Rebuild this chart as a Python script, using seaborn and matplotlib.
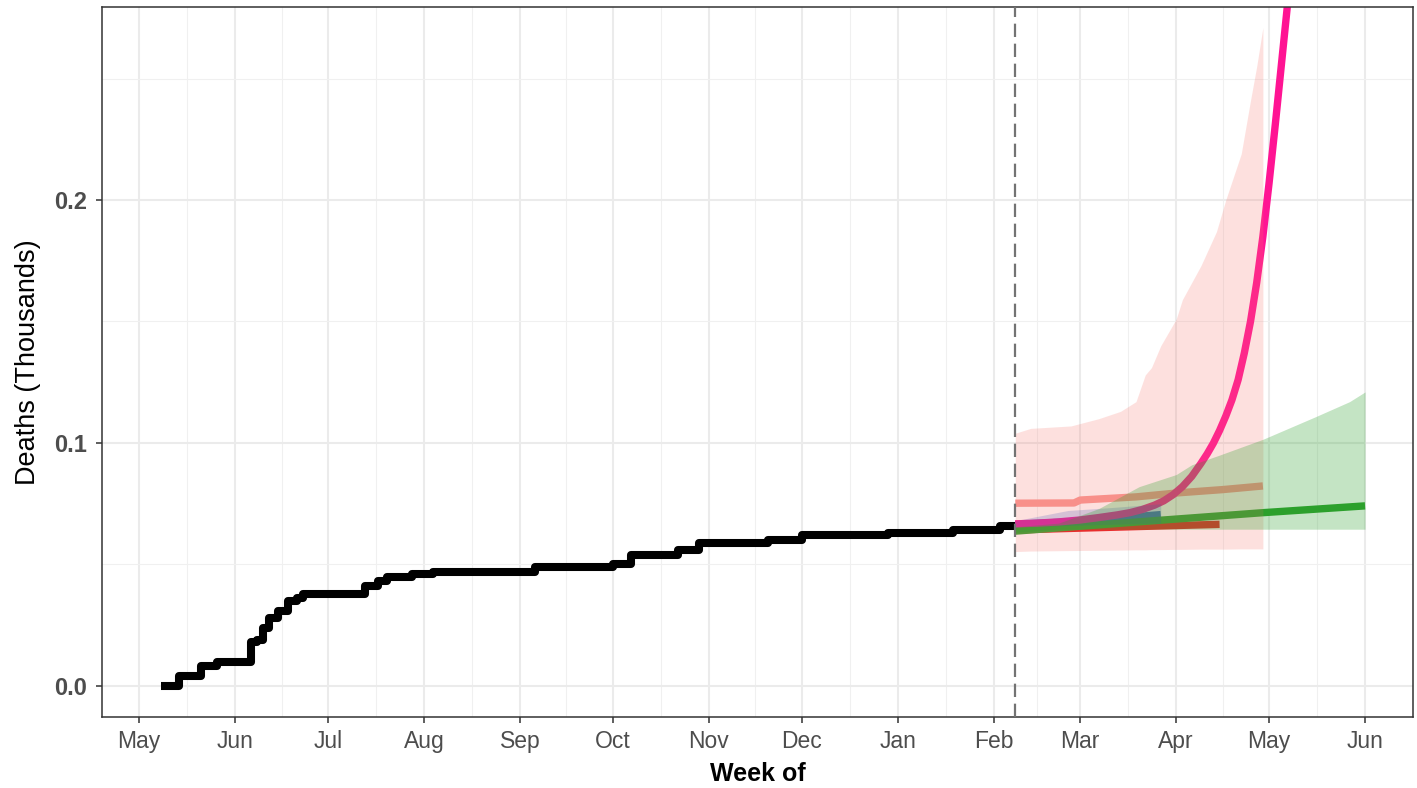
import pandas as pd
import matplotlib
matplotlib.use("Agg")
import matplotlib.pyplot as plt
import matplotlib.dates as mdates
import matplotlib.ticker as mticker
import seaborn as sns

# observed cumulative deaths (dates where the count changes), in deaths
obs_dates = ["2020-05-08", "2020-05-14", "2020-05-21", "2020-05-26", "2020-06-06",
             "2020-06-08", "2020-06-10", "2020-06-12", "2020-06-15", "2020-06-18",
             "2020-06-21", "2020-06-23", "2020-07-13", "2020-07-17", "2020-07-20",
             "2020-07-28", "2020-08-04", "2020-09-06", "2020-10-01", "2020-10-07",
             "2020-10-22", "2020-10-29", "2020-11-20", "2020-12-01", "2020-12-29",
             "2021-01-19", "2021-02-03", "2021-02-08"]
obs_deaths = [0, 4, 8, 10, 18, 19, 24, 28, 31, 35, 36, 38, 41, 43, 45, 46, 47, 49,
              50, 54, 56, 59, 60, 62, 63, 64, 66, 66]

forecast_start = "2021-02-08"

# forecast lines (thousands)
salmon_dates = ["2021-02-08", "2021-02-27", "2021-03-01", "2021-03-19", "2021-04-02",
                "2021-04-16", "2021-04-29"]
salmon_vals = [0.0752, 0.0753, 0.0765, 0.0778, 0.0795, 0.0808, 0.0823]

green_dates = ["2021-02-08", "2021-03-27", "2021-04-29", "2021-06-01"]
green_vals = [0.0637, 0.0682, 0.0713, 0.0741]

blue_dates = ["2021-02-08", "2021-02-25", "2021-03-12", "2021-03-27"]
blue_vals = [0.0665, 0.0675, 0.0690, 0.0705]
blue_lo = [0.0655, 0.0660, 0.0665, 0.0670]
blue_hi = [0.0680, 0.0722, 0.0735, 0.0750]

red_dates = ["2021-02-08", "2021-04-15"]
red_vals = [0.0642, 0.0665]

pink_dates = ["2021-02-08", "2021-02-15", "2021-02-22", "2021-03-01", "2021-03-07",
              "2021-03-13", "2021-03-17", "2021-03-21", "2021-03-25", "2021-03-28",
              "2021-03-31", "2021-04-03", "2021-04-06", "2021-04-09", "2021-04-11",
              "2021-04-13", "2021-04-15", "2021-04-17", "2021-04-19", "2021-04-21",
              "2021-04-23", "2021-04-25", "2021-04-27", "2021-04-29", "2021-05-01",
              "2021-05-03", "2021-05-05", "2021-05-07", "2021-05-09"]
pink_vals = [0.0667, 0.0670, 0.0675, 0.0683, 0.0693, 0.0704, 0.0713, 0.0726, 0.0744,
             0.0762, 0.0787, 0.0820, 0.0862, 0.0916, 0.0955, 0.0999, 0.1051, 0.1110,
             0.1177, 0.1260, 0.1370, 0.1500, 0.1660, 0.1850, 0.2070, 0.2310, 0.2560,
             0.2810, 0.3080]

# forecast intervals (thousands)
pink_band_dates = ["2021-02-08", "2021-02-13", "2021-02-26", "2021-03-07", "2021-03-14",
                   "2021-03-19", "2021-03-22", "2021-03-24", "2021-03-27", "2021-04-01",
                   "2021-04-03", "2021-04-09", "2021-04-14", "2021-04-17", "2021-04-22",
                   "2021-04-25", "2021-04-27", "2021-04-29"]
pink_band_lo = [0.0553, 0.0555, 0.0557, 0.0558, 0.0559, 0.0560, 0.0560, 0.0561, 0.0561,
                0.0562, 0.0562, 0.0563, 0.0563, 0.0563, 0.0564, 0.0564, 0.0564, 0.0564]
pink_band_hi = [0.104, 0.106, 0.107, 0.110, 0.113, 0.117, 0.128, 0.131, 0.140, 0.151,
                0.159, 0.173, 0.187, 0.200, 0.219, 0.241, 0.255, 0.271]

green_band_dates = ["2021-02-08", "2021-02-22", "2021-03-07", "2021-03-20", "2021-04-01",
                    "2021-04-06", "2021-04-15", "2021-04-29", "2021-05-16", "2021-05-27",
                    "2021-06-01"]
green_band_lo = [0.0632, 0.0645, 0.0645, 0.0645, 0.0645, 0.0645, 0.0645, 0.0645, 0.0645,
                 0.0645, 0.0645]
green_band_hi = [0.0655, 0.0670, 0.0730, 0.0820, 0.0870, 0.0910, 0.0950, 0.1015, 0.1108,
                 0.1170, 0.1210]

month_ticks = pd.date_range("2020-05-01", "2021-06-01", freq="MS")

sns.set_theme(style="whitegrid", rc={
    "axes.edgecolor": "#333333",
    "axes.linewidth": 1.1,
    "grid.color": "#ebebeb",
})
plt.rcParams["font.family"] = ["Liberation Sans", "DejaVu Sans"]

fig, ax = plt.subplots(figsize=(14.17, 7.88), dpi=100)
fig.subplots_adjust(left=0.072, right=0.9972, top=0.991, bottom=0.0901)

obs = pd.DataFrame({"date": pd.to_datetime(obs_dates), "deaths": [d / 1000 for d in obs_deaths]})
sns.lineplot(data=obs, x="date", y="deaths", ax=ax, color="black", linewidth=5.8,
             drawstyle="steps-post", solid_capstyle="butt")

lines = [
    (salmon_dates, salmon_vals, "#f99893"),
    (red_dates, red_vals, "#e41a1c"),
    (blue_dates, blue_vals, "#2f6fae"),
    (green_dates, green_vals, "#2ca02c"),
    (pink_dates, pink_vals, "#ff1493"),
]
for d, v, c in lines:
    df = pd.DataFrame({"date": pd.to_datetime(d), "value": v})
    sns.lineplot(data=df, x="date", y="value", ax=ax, color=c, linewidth=5.3,
                 solid_capstyle="butt")

ax.fill_between(pd.to_datetime(pink_band_dates), pink_band_lo, pink_band_hi,
                color="#f8766d", alpha=0.22, linewidth=0, zorder=3)
ax.fill_between(pd.to_datetime(blue_dates), blue_lo, blue_hi,
                color="#4a55b8", alpha=0.22, linewidth=0, zorder=3)
ax.fill_between(pd.to_datetime(green_band_dates), green_band_lo, green_band_hi,
                color="#2ca02c", alpha=0.28, linewidth=0, zorder=3)

ax.axvline(pd.Timestamp(forecast_start), color="#737373", linewidth=1.6,
           linestyle=(0, (6, 3)), zorder=4)

ax.set_xlim(pd.Timestamp("2020-04-19"), pd.Timestamp("2021-06-16 12:00"))
ax.set_ylim(-0.0128, 0.2794)

ax.set_xticks(month_ticks)
ax.xaxis.set_major_formatter(mdates.DateFormatter("%b"))
nums = mdates.date2num(month_ticks)
ax.set_xticks([(a + b) / 2 for a, b in zip(nums[:-1], nums[1:])], minor=True)
ax.set_yticks([0.0, 0.1, 0.2])
ax.set_yticks([0.05, 0.15, 0.25], minor=True)
ax.yaxis.set_major_formatter(mticker.FormatStrFormatter("%.1f"))

ax.grid(which="major", color="#ebebeb", linewidth=1.5)
ax.grid(which="minor", color="#f0f0f0", linewidth=0.8)
ax.set_axisbelow(True)

ax.tick_params(axis="both", which="major", length=4.5, width=1.1, color="#333333",
               direction="out", bottom=True, left=True)
ax.tick_params(axis="both", which="minor", length=0)
ax.tick_params(axis="x", labelsize=16.5, labelcolor="#4d4d4d", pad=5)
ax.tick_params(axis="y", labelsize=17, labelcolor="#4d4d4d", pad=6.5)
for lab in ax.get_yticklabels():
    lab.set_fontweight("bold")

ax.set_xlabel("Week of", fontsize=18, fontweight="bold", color="black", labelpad=6)
ax.set_ylabel("Deaths (Thousands)", fontsize=19.5, color="black", labelpad=9)

for s in ax.spines.values():
    s.set_visible(True)
    s.set_color("#333333")

fig.savefig("out.png", dpi=100)
